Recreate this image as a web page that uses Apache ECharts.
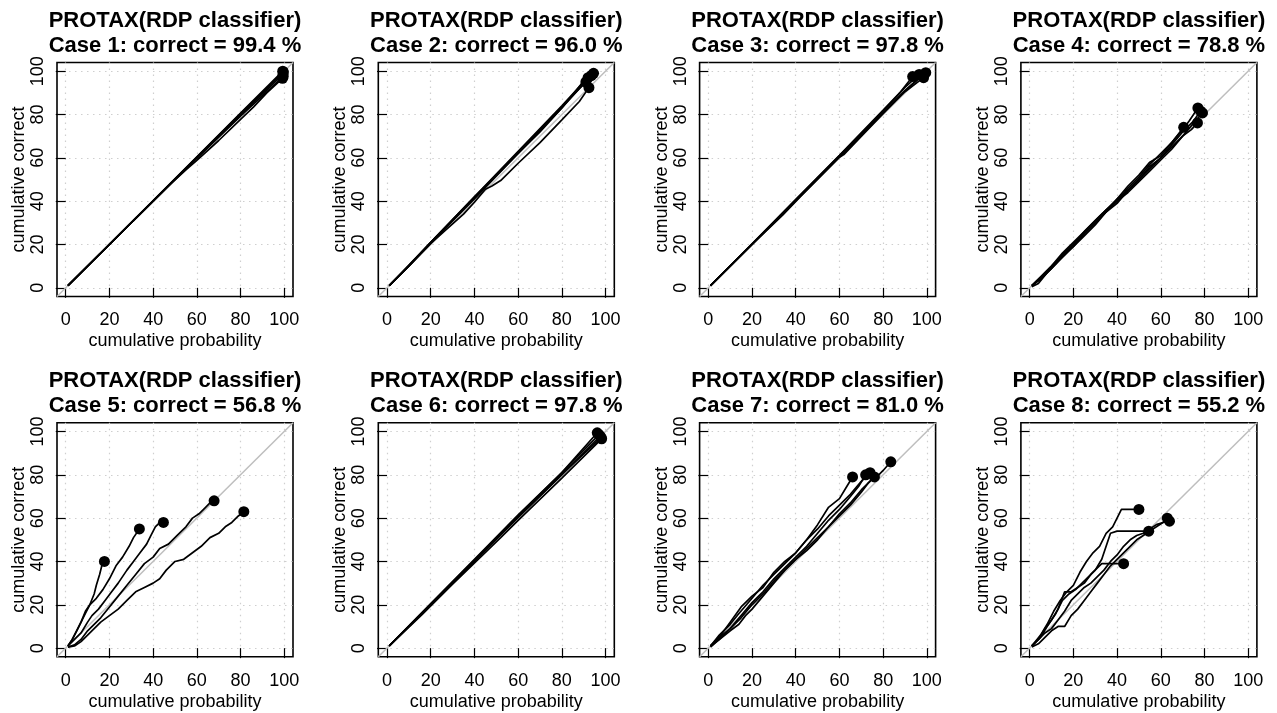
<!DOCTYPE html>
<html>
<head>
<meta charset="utf-8">
<script src="https://cdn.jsdelivr.net/npm/echarts@6/dist/echarts.min.js"></script>
<style>
html,body{margin:0;padding:0;background:#fff;}
#chart{width:1277px;height:713px;}
</style>
</head>
<body>
<div id="chart"></div>
<script>
// ---------- data ----------
const tickValues = [0, 20, 40, 60, 80, 100];
const axisLimits = [-4, 104];
const caseNames = ['Case 1', 'Case 2', 'Case 3', 'Case 4', 'Case 5', 'Case 6', 'Case 7', 'Case 8'];
const caseCorrect = ['99.4', '96.0', '97.8', '78.8', '56.8', '97.8', '81.0', '55.2'];
const methodName = 'PROTAX(RDP classifier)';
const xAxisName = 'cumulative probability';
const yAxisName = 'cumulative correct';

const case1Curves = [
  [[1,1],[20,20.2],[40,40.3],[60,60.5],[80,80.6],[99.3,100]],
  [[1,1],[20,20.1],[40,40.2],[60,60.3],[80,80.4],[99.6,99.6]],
  [[1,1],[20,20],[40,40],[50,50],[60,60],[80,79.8],[99.4,98.5]],
  [[1,1],[20,20],[40,40],[48,48],[55,54.5],[60,58.8],[70,68],[80,77.8],[86,83.5],[92,90],[99.2,96.7]],
  [[1,1],[20,20],[40,40],[60,59.8],[80,79.2],[99.5,97.5]]
];
const case2Curves = [
  [[1,1],[10,10.5],[20,21],[30,31.5],[40,42],[50,52.5],[60,63],[70,73.5],[80,84],[90,95],[94.5,99]],
  [[1,1],[10,10],[20,21],[30,31],[40,41.5],[50,52],[60,62],[70,72],[80,83],[88,92],[91,95]],
  [[1,1],[10,10],[20,20.5],[25,25],[30,29.5],[35,34],[40,39.5],[45,45.5],[48,47],[52,49.5],[60,57.5],[70,67],[80,77.5],[88,86],[92.4,92.4]],
  [[1,1],[10,10.2],[20,20.5],[30,31],[40,41],[50,51.5],[60,62],[70,72.5],[80,83],[90,95.5],[92,97]],
  [[1,1],[10,10.3],[20,21],[30,31.5],[40,42],[50,52],[60,62.5],[70,73],[80,83.5],[90,94],[93.5,98]]
];
const case3Curves = [
  [[1,1],[20,20.3],[40,40.8],[60,61.2],[80,82],[88,90.5],[93.5,97.5]],
  [[1,1],[20,20.2],[40,40.5],[60,61],[80,81.5],[90,92.5],[96.5,98.5]],
  [[1,1],[20,20],[34,33.5],[42,42],[60,60.3],[62,61.5],[80,80.5],[90,90.5],[98.5,97]],
  [[1,1],[20,20.1],[40,40.3],[60,60.5],[80,80.8],[90,91],[99.5,99.3]],
  [[1,1],[20,20],[40,40.2],[60,60.4],[80,80.5],[90,91],[97.7,98]]
];
const case4Curves = [
  [[1,1],[5,4],[10,9],[15,15],[20,20],[25,26],[30,31],[35,36],[40,40],[45,46],[50,51],[55,57],[60,62],[65,67],[70,73],[73,77],[77,83]],
  [[1,1],[5,5],[10,10],[15,15],[20,19],[25,24],[30,29],[35,35],[40,41],[45,45],[50,50],[55,56],[60,60],[65,66],[70,72],[75,77],[78.2,81.6]],
  [[1,0.5],[4,2],[8,7],[12,11],[16,16],[20,20],[25,25],[30,30],[35,35],[40,40],[45,44],[50,49],[55,54],[60,59],[65,64],[70,70],[75,76],[79.1,80.7]],
  [[1,1],[5,5],[10,10],[15,16],[20,21],[25,26],[30,31],[35,36],[40,41],[45,47],[50,52],[55,58],[60,61],[65,67],[70.5,74.1]],
  [[1,1],[5,4],[10,9],[15,14],[20,19],[25,25],[30,30],[35,35],[40,39],[45,45],[50,50],[55,55],[60,60],[65,65],[70,70],[74,73],[76.8,76.1]]
];
const case5Curves = [
  [[1,1],[3,4],[5,8],[7,12],[9,16],[11,20],[13,25],[14,29],[15.5,34],[16.5,38],[17.7,40]],
  [[1,1],[3,4],[5,8],[7,12],[9,17],[11,20],[14,23],[17,27],[20,32],[23,38],[26,42],[29,47],[31,51],[33.7,55]],
  [[1,1],[4,4],[7,7],[10,12],[12,15],[15,18],[18,22],[21,26],[24,30],[28,36],[31,40],[34,44],[37,48],[39,52],[41,56],[42.5,57.5],[44.7,58]],
  [[1,0.5],[4,1.5],[7,4],[10,8],[13,11],[16,14],[20,19],[24,24],[28,29],[32,34],[36,39],[40,42],[43,46],[47,48],[51,52],[55,56],[58,60],[61,62],[64,65],[66,67],[67.9,68]],
  [[1,0.5],[4,1],[7,3],[10,6],[13,9],[16,12],[20,15],[24,18],[28,22],[32,26],[36,28],[40,30],[43,32],[46,36],[50,40],[54,41],[58,44],[62,47],[66,51],[70,53],[73,56],[76,58],[79,61],[81.5,63]]
];
const case6Curves = [
  [[1,1],[20,20.5],[40,41],[60,61.5],[80,81],[96.2,99.4]],
  [[1,1],[20,20.3],[40,40.6],[60,61],[80,81],[97,98.5]],
  [[1,1],[16,15.5],[30,29.5],[52,51],[60,59],[80,78.5],[98.2,96.6]],
  [[1,1],[20,20],[40,40.2],[60,60.3],[80,80],[97.5,97.8]],
  [[1,1],[20,20.2],[40,40.4],[60,60.5],[80,80.2],[98,97.2]]
];
const case7Curves = [
  [[1,1],[5,5],[10,12],[15,19],[20,24],[25,28],[30,35],[35,40],[40,44],[45,50],[50,57],[55,65],[60,69],[63,74],[66,79]],
  [[1,1],[5,4],[10,9],[15,15],[20,21],[25,26],[30,32],[35,37],[40,42],[45,47],[50,53],[55,59],[60,64],[65,70],[69,75],[72,80]],
  [[1,1],[5,6],[10,11],[14,16],[20,23],[25,29],[30,34],[35,39],[40,44],[45,50],[50,55],[55,61],[60,66],[65,71],[70,77],[74,81]],
  [[1,0.5],[5,4],[10,8],[14,11],[17,15],[20,18],[25,24],[30,30],[35,36],[40,41],[45,45],[50,50],[55,56],[60,61],[65,66],[70,72],[73,76],[76,79]],
  [[1,1],[5,5],[10,9],[15,14],[20,20],[25,25],[30,31],[35,36],[40,41],[45,46],[50,51],[55,56],[60,62],[65,67],[70,73],[75,78],[78,80],[80,82],[83.5,86]]
];
const case8Curves = [
  [[1,1],[5,6],[8,11],[11,17],[14,22],[17,26],[20,29],[23,35],[26,40],[29,44],[32,47],[35,53],[38,56],[40,60],[42,64],[46,64],[50,64]],
  [[1,1],[5,5],[8,10],[12,16],[15,22],[18,25],[21,27],[24,30],[27,33],[30,36],[33,41],[35,47],[37,53],[40,54],[45,54],[50,54],[54.5,54]],
  [[1,1],[4,4],[7,9],[10,13],[13,18],[16,26],[19,26],[22,28],[25,30],[28,34],[31,37],[33,39],[38,39],[43,39]],
  [[1,0.5],[4,2],[7,5],[10,8],[13,10],[16,10],[19,15],[22,18],[25,22],[28,26],[31,30],[34,34],[37,38],[40,41],[43,44],[46,47],[49,50],[52,52],[55,54],[58,56],[61,58],[63,60]],
  [[1,1],[4,4],[7,7],[10,9],[13,13],[16,17],[19,22],[22,25],[25,28],[28,30],[31,33],[34,36],[37,40],[40,43],[43,47],[46,50],[49,52],[52,53],[55,55],[58,57],[61,58],[64,58.6]]
];
const allCases = [case1Curves, case2Curves, case3Curves, case4Curves, case5Curves, case6Curves, case7Curves, case8Curves];

// ---------- layout ----------
const COL_LEFT = 57, COL_STEP = 321.3, BOX_W = 236;
const ROW_TOP = [62.5, 422.8], BOX_H = 234;
const ROW_SHIFT = [0, 360.3];
const FONT = 'Liberation Sans, Arial, Helvetica, sans-serif';

const grids = [], xAxes = [], yAxes = [], titles = [], series = [];
allCases.forEach((curves, i) => {
  const col = i % 4, row = Math.floor(i / 4);
  const left = COL_LEFT + COL_STEP * col;
  const top = ROW_TOP[row];
  grids.push({
    left: left, top: top, width: BOX_W, height: BOX_H,
    show: true, borderColor: '#000', borderWidth: 1.6, backgroundColor: 'transparent',
    containLabel: false
  });
  titles.push({
    text: methodName + '\n' + caseNames[i] + ': correct = ' + caseCorrect[i] + ' %',
    left: left + BOX_W / 2, top: 8 + ROW_SHIFT[row], padding: 0, textAlign: 'center',
    textStyle: { fontFamily: FONT, fontSize: 22, fontWeight: 'bold', color: '#000', lineHeight: 25 }
  });
  const common = {
    gridIndex: i, type: 'value', min: axisLimits[0], max: axisLimits[1],
    axisLine: { show: false },
    axisTick: { show: true, inside: false, length: 10, customValues: tickValues, lineStyle: { color: '#000', width: 1.2 } },
    splitLine: { show: true, lineStyle: { type: [1.5, 4.5], color: '#cfcfcf', width: 1.2 } },
    nameLocation: 'middle',
    nameTextStyle: { fontFamily: FONT, fontSize: 18, color: '#000' }
  };
  xAxes.push(Object.assign({}, common, {
    name: xAxisName, nameGap: 36,
    axisLabel: { customValues: tickValues, margin: 15, fontFamily: FONT, fontSize: 18, color: '#000' }
  }));
  yAxes.push(Object.assign({}, common, {
    name: yAxisName, nameGap: 29,
    axisLabel: { customValues: tickValues, margin: 10, rotate: 90, fontFamily: FONT, fontSize: 18, color: '#000' }
  }));
  series.push({
    type: 'line', xAxisIndex: i, yAxisIndex: i, silent: true, symbol: 'none', z: 2,
    data: axisLimits.map(v => [v, v]),
    lineStyle: { color: '#bebebe', width: 1.5 }
  });
  curves.forEach(c => {
    series.push({
      type: 'line', xAxisIndex: i, yAxisIndex: i, silent: true, symbol: 'none', z: 3,
      data: c, lineStyle: { color: '#000', width: 1.7 }
    });
  });
  series.push({
    type: 'scatter', xAxisIndex: i, yAxisIndex: i, silent: true, z: 4,
    symbol: 'circle', symbolSize: 11,
    itemStyle: { color: '#000', opacity: 1 },
    data: curves.map(c => c[c.length - 1])
  });
});

const chart = echarts.init(document.getElementById('chart'), null, { renderer: 'canvas' });
chart.setOption({
  animation: false,
  backgroundColor: '#fff',
  title: titles,
  grid: grids,
  xAxis: xAxes,
  yAxis: yAxes,
  series: series
});
</script>
</body>
</html>
